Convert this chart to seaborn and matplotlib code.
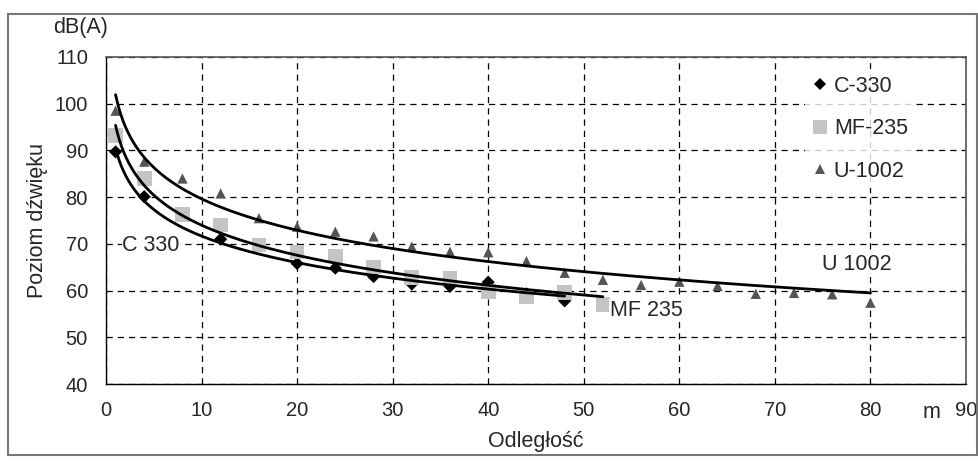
import numpy as np
import pandas as pd
import matplotlib
matplotlib.use("Agg")
import matplotlib.pyplot as plt
from matplotlib.patches import Rectangle
from matplotlib.lines import Line2D
import seaborn as sns

# ---- data ----
c330_x = [1, 4, 12, 20, 24, 28, 32, 36, 40, 44, 48]
c330_y = [89.7, 80.1, 71.0, 65.8, 64.8, 63.0, 61.4, 60.9, 61.8, 59.3, 57.8]

mf235_x = [1, 4, 8, 12, 16, 20, 24, 28, 32, 36, 40, 44, 48, 52]
mf235_y = [93.2, 84.0, 76.3, 74.0, 69.8, 68.3, 67.4, 65.0, 62.8, 62.6, 59.8, 58.7, 59.6, 57.0]

u1002_x = [1, 4, 8, 12, 16, 20, 24, 28, 32, 36, 40, 44, 48, 52, 56, 60, 64, 68, 72, 76, 80]
u1002_y = [98.5, 87.6, 84.0, 80.8, 75.5, 73.7, 72.6, 71.6, 69.4, 68.3, 68.2, 66.3, 63.8, 62.3, 61.2, 61.9, 61.0, 59.3, 59.5, 59.2, 57.4]

x_ticks = [0, 10, 20, 30, 40, 50, 60, 70, 80, 90]
y_ticks = [40, 50, 60, 70, 80, 90, 100, 110]

legend_labels = ["C-330", "MF-235", "U-1002"]
curve_labels = ["C 330", "MF 235", "U 1002"]

sns.set_style("white")
plt.rcParams["font.family"] = ["Liberation Sans", "DejaVu Sans"]

TICK_FS = 14.5
TEXT_FS = 15.5

fig = plt.figure(figsize=(9.79, 4.63), dpi=100)
ax = fig.add_axes([106/979, 1-384/463, (966-106)/979, (384-57)/463])

df = pd.concat([
    pd.DataFrame({"x": c330_x, "y": c330_y, "s": legend_labels[0]}),
    pd.DataFrame({"x": mf235_x, "y": mf235_y, "s": legend_labels[1]}),
    pd.DataFrame({"x": u1002_x, "y": u1002_y, "s": legend_labels[2]}),
])

styles = {
    legend_labels[0]: dict(marker="D", color="black", s=45),
    legend_labels[1]: dict(marker="s", color="#c4c4c4", s=110),
    legend_labels[2]: dict(marker="^", color="#555555", s=55),
}
for name in legend_labels:
    st = styles[name]
    sns.scatterplot(data=df[df.s == name], x="x", y="y", marker=st["marker"],
                    color=st["color"], s=st["s"], edgecolor="none", ax=ax, zorder=3)

# logarithmic trend lines
for xs, ys in [(c330_x, c330_y), (mf235_x, mf235_y), (u1002_x, u1002_y)]:
    xs = np.asarray(xs, float); ys = np.asarray(ys, float)
    b, a = np.polyfit(np.log(xs), ys, 1)
    xx = np.linspace(xs.min(), xs.max(), 300)
    sns.lineplot(x=xx, y=a + b*np.log(xx), color="black", lw=2.0, ax=ax, zorder=4)

ax.set_xlim(0, 90)
ax.set_ylim(40, 110)
ax.set_xticks(x_ticks)
ax.set_yticks(y_ticks)
ax.tick_params(axis="both", direction="inout", length=8, width=1, labelsize=TICK_FS, color="black")
ax.tick_params(axis="x", pad=8)
ax.tick_params(axis="y", pad=9)
ax.grid(True, color="black", linestyle=(0, (5, 4)), linewidth=0.9)
for side in ["left", "bottom"]:
    ax.spines[side].set_color("black"); ax.spines[side].set_linewidth(1.0)
for side in ["top", "right"]:
    ax.spines[side].set_color("#555555"); ax.spines[side].set_linewidth(1.2)
ax.set_xlabel("Odległość", fontsize=TEXT_FS, labelpad=8)
ax.set_ylabel("Poziom dźwięku", fontsize=TEXT_FS, labelpad=5)

# curve labels
bb = dict(facecolor="white", edgecolor="none", pad=0.5)
ax.text(1.7, 69.75, curve_labels[0], fontsize=TEXT_FS, ha="left", va="center", zorder=5, bbox=bb)
ax.text(52.7, 55.8, curve_labels[1], fontsize=TEXT_FS, ha="left", va="center", zorder=5, bbox=bb)
ax.text(74.9, 65.5, curve_labels[2], fontsize=TEXT_FS, ha="left", va="center", zorder=5, bbox=bb)

# units
fig.text(81/979, 1-28/463, "dB(A)", fontsize=TEXT_FS, ha="center", va="center")
fig.text(932/979, 1-413/463, "m", fontsize=TEXT_FS, ha="center", va="center")

# legend
handles = [
    Line2D([], [], marker="D", color="black", ls="none", markersize=6.5, markeredgewidth=0),
    Line2D([], [], marker="s", color="#c4c4c4", ls="none", markersize=10.5, markeredgewidth=0),
    Line2D([], [], marker="^", color="#555555", ls="none", markersize=7, markeredgewidth=0),
]
leg = ax.legend(handles, legend_labels, loc="upper left", bbox_to_anchor=(0.80, 0.995),
                frameon=True, fontsize=TEXT_FS, handlelength=0.8, handletextpad=0.25,
                labelspacing=1.0, borderpad=0.3, fancybox=False)
leg.get_frame().set_facecolor("white")
leg.get_frame().set_edgecolor("none")
leg.set_zorder(6)

# outer frame
fig.patches.append(Rectangle((8/979, 1-455/463), (977-8)/979, (455-14)/463,
                             transform=fig.transFigure, fill=False,
                             edgecolor="#777777", linewidth=1.5))

fig.savefig("out.png", dpi=100)
